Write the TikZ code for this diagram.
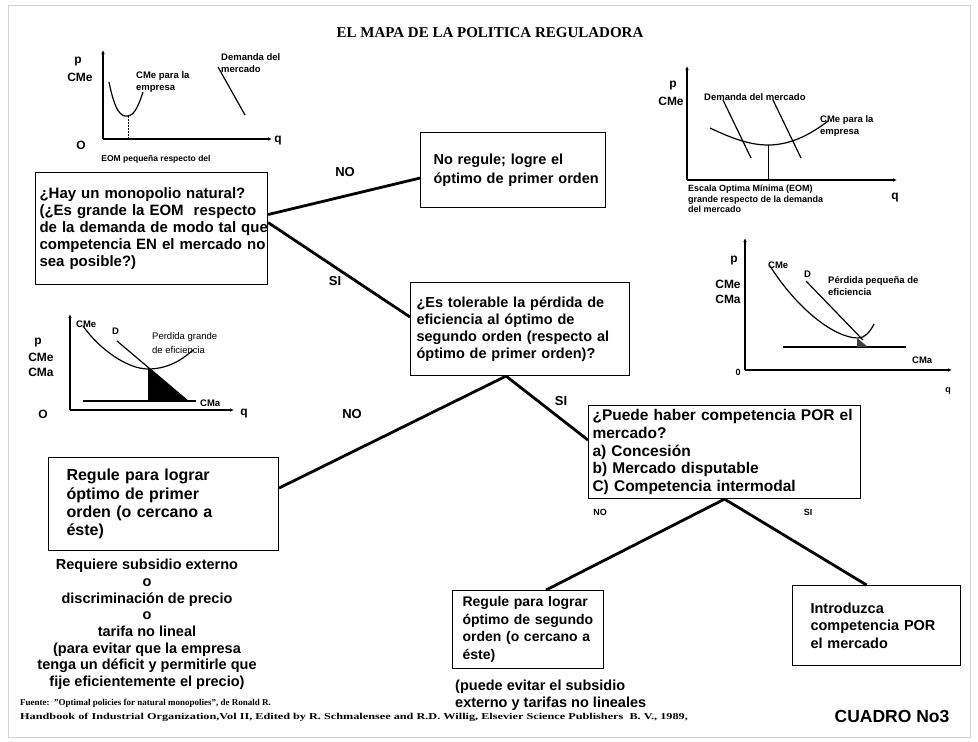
\documentclass[tikz,border=0pt]{standalone}
\usepackage{fontspec}
\setmainfont{Liberation Serif}
\setsansfont{Liberation Sans}
\usetikzlibrary{arrows.meta,calc}
\newcommand\fs[2]{\fontsize{#1}{#2}\selectfont}
\begin{document}
\begin{tikzpicture}[x=1pt,y=-1pt,
  every node/.style={inner sep=0pt},
  box/.style={draw, line width=1.1pt, anchor=north west, align=left, inner ysep=0pt},
  conn/.style={line width=2.8pt},
  lbl/.style={font=\sffamily\bfseries\fs{13}{15}},
  slbl/.style={font=\sffamily\bfseries\fs{9}{10}},
  glbl/.style={font=\sffamily\bfseries\fs{9.5}{11.5}, anchor=west, align=left},
  axlbl/.style={font=\sffamily\bfseries\fs{12}{13}},
  axis/.style={line width=1.1pt, -{Latex[length=4pt,width=3.5pt]}},
  crv/.style={line width=1.2pt},
  ftext/.style={font=\sffamily\bfseries\fs{14.5}{16.7}},
]
\useasboundingbox (0,0) rectangle (978,742);
\draw[gray!35, line width=0.8pt] (8,5) rectangle (970,737);

% title
\node[font=\rmfamily\bfseries\fs{15}{17}] (title) at (490,33) {EL MAPA DE LA POLITICA REGULADORA};

% ---------- boxes ----------
\node[box, minimum width=232, minimum height=112, text width=224, inner xsep=4,
      font=\sffamily\bfseries\fs{15}{16.8}] (b1) at (35,172)
 {\mbox{¿Hay un monopolio natural?}\\\mbox{(¿Es grande la EOM\ \ respecto}\\\mbox{de la demanda de modo tal que}\\\mbox{competencia EN el mercado no}\\\mbox{sea posible?)}};

\node[box, minimum width=185, minimum height=75, text width=159, inner xsep=13,
      font=\sffamily\bfseries\fs{14.5}{19}] (b2) at (420,132)
 {\mbox{No regule; logre el}\\\mbox{óptimo de primer orden}};

\node[box, minimum width=219, minimum height=93, text width=207, inner xsep=6,
      font=\sffamily\bfseries\fs{14.5}{16.8}] (b3) at (410,282)
 {\mbox{¿Es tolerable la pérdida de}\\\mbox{eficiencia al óptimo de}\\\mbox{segundo orden (respecto al}\\\mbox{óptimo de primer orden)?}};

\node[box, minimum width=230, minimum height=93, text width=194, inner xsep=18,
      font=\sffamily\bfseries\fs{16}{18.3}] (b4) at (48,457)
 {\mbox{Regule para lograr}\\\mbox{óptimo de primer}\\\mbox{orden (o cercano a}\\\mbox{éste)}};

\node[box, minimum width=272, minimum height=93, text width=264, inner xsep=4,
      font=\sffamily\bfseries\fs{15.5}{17.8}] (b5) at (588,405)
 {\mbox{¿Puede haber competencia POR el}\\\mbox{mercado?}\\\mbox{a) Concesión}\\\mbox{b) Mercado disputable}\\\mbox{C) Competencia intermodal}};

\node[box, minimum width=151, minimum height=78, text width=131, inner xsep=10,
      font=\sffamily\bfseries\fs{14}{17.5}] (b6) at (452,590)
 {\mbox{Regule para lograr}\\\mbox{óptimo de segundo}\\\mbox{orden (o cercano a}\\\mbox{éste)}};

\node[box, minimum width=168, minimum height=80, text width=132, inner xsep=18,
      font=\sffamily\bfseries\fs{14.5}{17.5}] (b7) at (792,585)
 {\mbox{Introduzca}\\\mbox{competencia POR}\\\mbox{el mercado}};

% ---------- connectors ----------
\draw[conn] ([yshift=14pt]b1.east) -- ([yshift=-8pt]b2.west);
\draw[conn] ([yshift=6pt]b1.east) -- ([yshift=12pt]b3.west);
\draw[conn] ([xshift=-14pt]b3.south) -- ([yshift=16pt]b4.east);
\draw[conn] ([xshift=-14pt]b3.south) -- ([yshift=12pt]b5.west);
\draw[conn] (b5.south) -- ([xshift=18pt]b6.north);
\draw[conn] (b5.south) -- ([xshift=-10pt]b7.north);

\node[lbl] (l1) at (345,172) {NO};
\node[lbl] (l2) at (335,281) {SI};
\node[lbl] (l3) at (352,414) {NO};
\node[lbl] (l4) at (561,401) {SI};
\node[slbl] (l5) at (600,512) {NO};
\node[slbl] (l6) at (808,512) {SI};

% ---------- notes ----------
\node[ftext, align=center, anchor=north] (n4) at (147,559)
 {Requiere subsidio externo\\o\\discriminación de precio\\o\\tarifa no lineal\\(para evitar que la empresa\\tenga un déficit y permitirle que\\fije eficientemente el precio)};
\node[ftext, align=left, anchor=north west] (n6) at (455,680)
 {(puede evitar el subsidio\\externo y tarifas no lineales};

% ---------- footer ----------
\node[font=\rmfamily\bfseries\fs{9}{11}, anchor=west] (f1) at (20,703)
 {Fuente:\ \ "Optimal policies for natural monopolies", de Ronald R.};
\node[font=\rmfamily\bfseries\fs{9}{11}, anchor=west] (f2) at (20,717)
 {\scalebox{1.36}[1]{Handbook of Industrial Organization,Vol II, Edited by R. Schmalensee and R.D. Willig, Elsevier Science Publishers\ \ B. V., 1989,}};
\node[font=\sffamily\bfseries\fs{17.5}{19}] (cuadro) at (892,716) {CUADRO No3};

% ---------- graph 1 (top left) ----------
\draw[axis] (103,139) -- (103,50);
\draw[axis] (103,139) -- (272,139);
\draw[crv] (109,82) .. controls (115,112) and (121,117) .. (128,116) .. controls (135,115) and (139,104) .. (143,92);
\draw[line width=1pt, dash pattern=on 2pt off 1pt] (128,116) -- (128,139);
\draw[crv] (218,67) -- (245,115);
\node[axlbl] at (78,62) {p};
\node[axlbl] at (80,77) {CMe};
\node[axlbl] at (81,145) {O};
\node[axlbl] at (278,141) {q};
\node[glbl] at (136,82) {CMe para la\\empresa};
\node[glbl] at (221,63) {Demanda del\\mercado};
\node[glbl, anchor=center, font=\sffamily\bfseries\fs{8.5}{10}] at (156,159) {EOM pequeña respecto del};

% ---------- graph 2 (top right) ----------
\draw[axis] (687,180) -- (687,66);
\draw[axis] (687,180) -- (897,180);
\draw[crv] (723,100) -- (751,158);
\draw[crv] (773,100) -- (801,158);
\draw[crv] (710,128) .. controls (735,140) and (752,145) .. (768,145) .. controls (790,145) and (810,135) .. (828,121);
\draw[line width=1pt] (768,145) -- (768,180);
\node[axlbl] at (673,86) {p};
\node[axlbl] at (671,101) {CMe};
\node[glbl] at (704,97) {Demanda del mercado};
\node[glbl] at (820,126) {CMe para la\\empresa};
\node[axlbl] at (895,198) {q};
\node[glbl, font=\sffamily\bfseries\fs{9}{10.5}] at (688,199) {Escala Optima Mínima (EOM)\\grande respecto de la demanda\\del mercado};

% ---------- graph 3 (middle right) ----------
\draw[axis] (745,370) -- (745,238);
\draw[axis] (745,370) -- (952,370);
\draw[crv] (770,266) .. controls (798,310) and (835,338) .. (858,338) .. controls (865,338) and (870,332) .. (874,324);
\draw[crv] (806,281) -- (863,340);
\draw[crv] (783,347) -- (906,347);
\fill[black!75] (857,338) -- (857,347) -- (868,347) -- cycle;
\node[axlbl] at (734,261) {p};
\node[axlbl] at (728,284) {CMe};
\node[axlbl] at (728,299) {CMa};
\node[slbl] at (738,372) {0};
\node[slbl] at (948,391) {q};
\node[glbl] at (768,265) {CMe};
\node[glbl] at (804,274) {D};
\node[glbl] at (828,286) {Pérdida pequeña de\\eficiencia};
\node[glbl] at (912,360) {CMa};

% ---------- graph 4 (left) ----------
\draw[axis] (70,410) -- (70,314);
\draw[axis] (70,410) -- (234,410);
\fill[black] (148,367) -- (148,401) -- (188,401) -- cycle;
\draw[crv] (83,326) .. controls (100,350) and (128,369) .. (148,369) .. controls (165,369) and (180,362) .. (193,350);
\draw[crv] (117,341) -- (188,401);
\draw[crv] (83,401) -- (196,401);
\node[axlbl] at (38,343) {p};
\node[axlbl] at (41,357) {CMe};
\node[axlbl] at (41,372) {CMa};
\node[axlbl] at (43,414) {O};
\node[axlbl] at (244,414) {q};
\node[glbl] at (76,324) {CMe};
\node[glbl] at (112,331) {D};
\node[glbl, font=\sffamily\fs{9.5}{13.5}] at (152,343) {Perdida grande\\de eficiencia};
\node[glbl] at (200,403) {CMa};
\end{tikzpicture}
\end{document}
